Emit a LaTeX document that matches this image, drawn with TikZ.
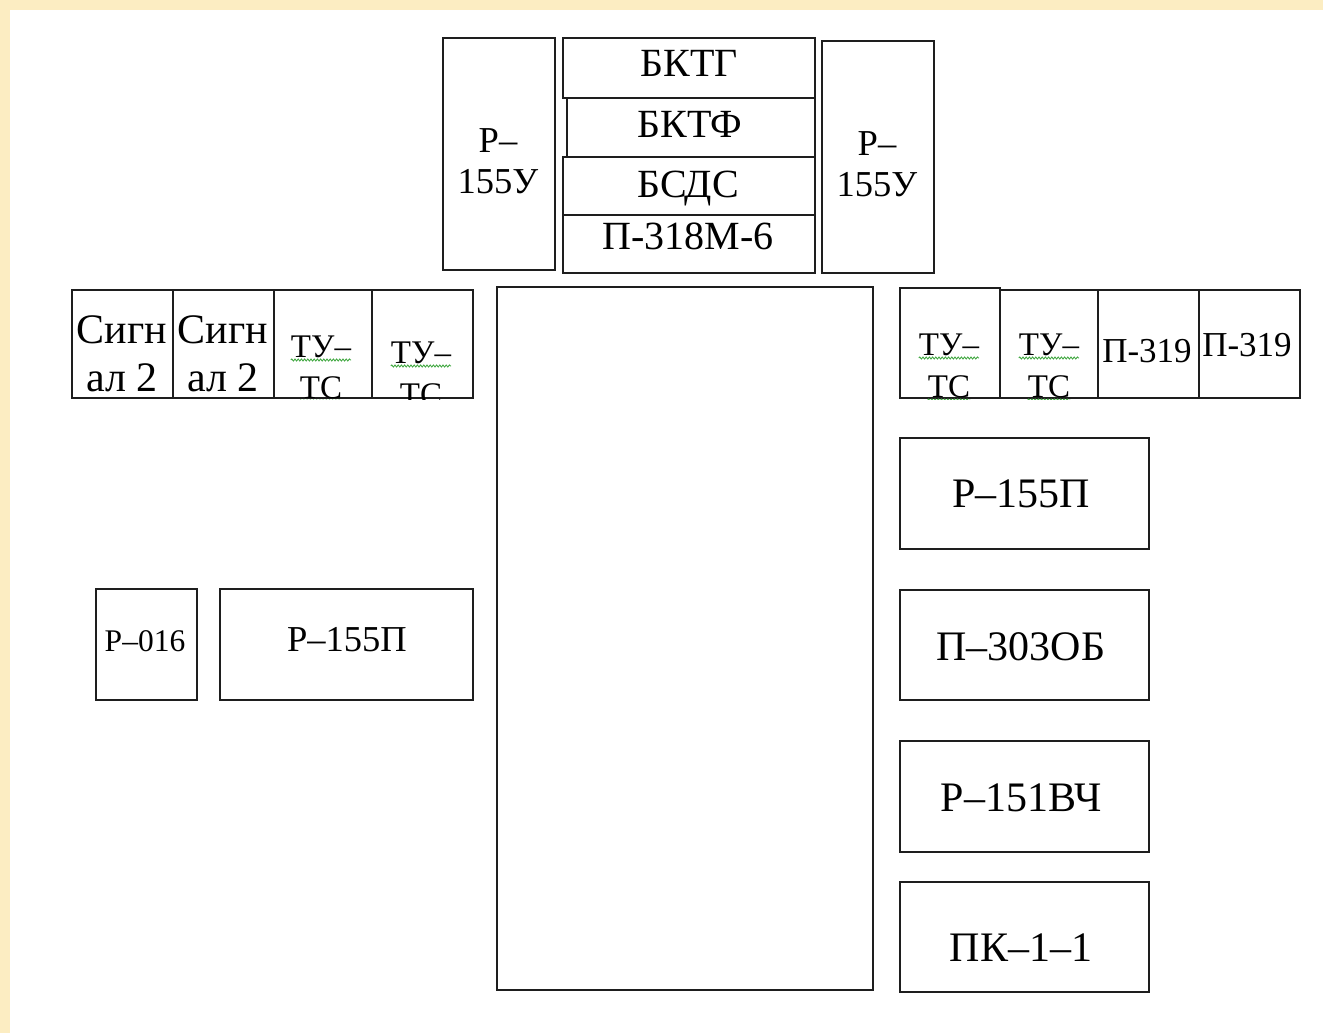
\documentclass[tikz,border=0pt]{standalone}
\usepackage{fontspec}
\setmainfont{Liberation Serif}
\usetikzlibrary{decorations.pathmorphing}
\definecolor{bgyel}{RGB}{252,237,194}
\definecolor{ln}{RGB}{30,30,30}
\definecolor{spell}{RGB}{70,170,70}
\newcommand{\fsz}[1]{\fontsize{#1}{#1}\selectfont}
\tikzset{
  box/.style={draw=ln, line width=1.9pt, fill=white, inner sep=0pt, outer sep=0pt, anchor=north west},
  lbl/.style={inner sep=0pt, anchor=base, text=black},
  wavy/.style={draw=spell, line width=0.9pt, decorate, decoration={snake, amplitude=1pt, segment length=3.2pt}},
}
\begin{document}
\begin{tikzpicture}[x=1pt,y=-1pt]
\useasboundingbox (0,0) rectangle (1323,1033);
\fill[bgyel] (0,0) rectangle (1323,1033);
\fill[white] (10,10) rectangle (1323,1033);

% top group
\node[box, minimum width=112, minimum height=232] (lu) at (443,38) {};
\node[box, minimum width=252, minimum height=60] (bktg) at (563,38) {};
\node[box, minimum width=248, minimum height=59] (bktf) at (567,98) {};
\node[box, minimum width=252, minimum height=58] (bsds) at (563,157) {};
\node[box, minimum width=252, minimum height=58] (p318) at (563,215) {};
\node[box, minimum width=112, minimum height=232] (ru) at (822,41) {};

\node[lbl, font=\fsz{40}] (t-bktg) at (689,77) {БКТГ};
\node[lbl, font=\fsz{40}] (t-bktf) at (690,137) {БКТФ};
\node[lbl, font=\fsz{40}] (t-bsds) at (688,197) {БСДС};
\node[lbl, font=\fsz{40}] (t-p318) at (688,249) {П-318М-6};
\node[lbl, font=\fsz{36.5}] (t-lu1) at (498,152) {Р–};
\node[lbl, font=\fsz{36.5}] (t-lu2) at (498,193) {155У};
\node[lbl, font=\fsz{36.5}] (t-ru1) at (877,155) {Р–};
\node[lbl, font=\fsz{36.5}] (t-ru2) at (877,196) {155У};

% big centre box
\node[box, minimum width=376, minimum height=703] (main) at (497,287) {};

% left row
\node[box, minimum width=101, minimum height=108] (l1) at (72,290) {};
\node[box, minimum width=101, minimum height=108] (l2) at (173,290) {};
\node[box, minimum width=98, minimum height=108] (l3) at (274,290) {};
\node[box, minimum width=101, minimum height=108] (l4) at (372,290) {};
\begin{scope}
\clip (72,290) rectangle (473,399);
\node[lbl, font=\fsz{42}] (t-l1a) at (122,343) {Сигн};
\node[lbl, font=\fsz{42}] (t-l1b) at (122,391) {ал 2};
\node[lbl, font=\fsz{42}] (t-l2a) at (223,343) {Сигн};
\node[lbl, font=\fsz{42}] (t-l2b) at (223,391) {ал 2};
\node[lbl, font=\fsz{33}] (t-l3a) at (321,357) {ТУ–};
\node[lbl, font=\fsz{33}] (t-l3b) at (321,398) {ТС};
\node[lbl, font=\fsz{33}] (t-l4a) at (421,363) {ТУ–};
\node[lbl, font=\fsz{33}] (t-l4b) at (421,405) {ТС};
\draw[wavy] ([yshift=-3pt]t-l3a.base west) -- ([yshift=-3pt]t-l3a.base east);
\draw[wavy] ([yshift=-3pt]t-l3b.base west) -- ([yshift=-3pt]t-l3b.base east);
\draw[wavy] ([yshift=-3pt]t-l4a.base west) -- ([yshift=-3pt]t-l4a.base east);
\end{scope}

% right row
\node[box, minimum width=100, minimum height=110] (r1) at (900,288) {};
\node[box, minimum width=98, minimum height=108] (r2) at (1000,290) {};
\node[box, minimum width=101, minimum height=108] (r3) at (1098,290) {};
\node[box, minimum width=101, minimum height=108] (r4) at (1199,290) {};
\begin{scope}
\clip (900,287) rectangle (1300,399);
\node[lbl, font=\fsz{33}] (t-r1a) at (949,355) {ТУ–};
\node[lbl, font=\fsz{33}] (t-r1b) at (949,397) {ТС};
\node[lbl, font=\fsz{33}] (t-r2a) at (1049,355) {ТУ–};
\node[lbl, font=\fsz{33}] (t-r2b) at (1049,397) {ТС};
\draw[wavy] ([yshift=-3pt]t-r1a.base west) -- ([yshift=-3pt]t-r1a.base east);
\draw[wavy] ([yshift=-3pt]t-r1b.base west) -- ([yshift=-3pt]t-r1b.base east);
\draw[wavy] ([yshift=-3pt]t-r2a.base west) -- ([yshift=-3pt]t-r2a.base east);
\draw[wavy] ([yshift=-3pt]t-r2b.base west) -- ([yshift=-3pt]t-r2b.base east);
\end{scope}
\node[lbl, font=\fsz{35}] (t-r3) at (1147,362) {П-319};
\node[lbl, font=\fsz{35}] (t-r4) at (1247,356) {П-319};

% left lower boxes
\node[box, minimum width=101, minimum height=111] (r016) at (96,589) {};
\node[box, minimum width=253, minimum height=111] (lp) at (220,589) {};
\node[lbl, font=\fsz{31.5}] (t-r016) at (145,651) {Р–016};
\node[lbl, font=\fsz{36.5}] (t-lp) at (347,651) {Р–155П};

% right column
\node[box, minimum width=249, minimum height=111] (rp) at (900,438) {};
\node[box, minimum width=249, minimum height=110] (p303) at (900,590) {};
\node[box, minimum width=249, minimum height=111] (r151) at (900,741) {};
\node[box, minimum width=249, minimum height=110] (pk) at (900,882) {};
\node[lbl, font=\fsz{42}] (t-rp) at (1021,507) {Р–155П};
\node[lbl, font=\fsz{42}] (t-p303) at (1021,660) {П–303ОБ};
\node[lbl, font=\fsz{42}] (t-r151) at (1021,811) {Р–151ВЧ};
\node[lbl, font=\fsz{42}] (t-pk) at (1021,961) {ПК–1–1};
\end{tikzpicture}
\end{document}
